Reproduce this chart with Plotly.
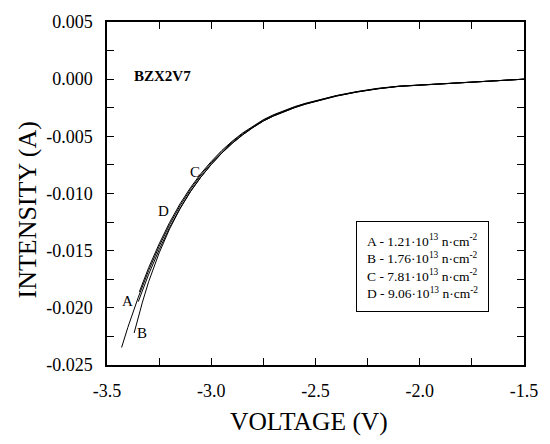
import plotly.graph_objects as go

# Voltage (V) and current (A) values
volt_A = [-1.5, -1.6, -1.7, -1.8, -1.9, -2.0, -2.1, -2.2, -2.3, -2.4, -2.5, -2.55, -2.6, -2.65,
          -2.7, -2.75, -2.8, -2.85, -2.9, -2.95, -3.0, -3.05, -3.1, -3.15, -3.2, -3.25, -3.3, -3.345]
curr_A = [0, -0.0001, -0.0002, -0.00028, -0.00036, -0.00046, -0.00061, -0.0008, -0.00108, -0.00143,
          -0.00187, -0.00212, -0.0024, -0.00273, -0.0031, -0.00354, -0.00409, -0.00471, -0.00543,
          -0.00625, -0.0072, -0.00826, -0.0095, -0.01091, -0.01254, -0.01441, -0.01648, -0.0186]

volt_B = [-1.5, -1.6, -1.7, -1.8, -1.9, -2.0, -2.1, -2.2, -2.3, -2.4, -2.5, -2.55, -2.6, -2.65,
          -2.7, -2.75, -2.8, -2.85, -2.9, -2.95, -3.0, -3.05, -3.1, -3.15, -3.2, -3.25, -3.3,
          -3.33, -3.35, -3.37]
curr_B = [0, -0.0001, -0.0002, -0.0003, -0.00038, -0.00048, -0.00063, -0.00084, -0.00112, -0.00148,
          -0.00194, -0.00219, -0.00249, -0.00283, -0.00321, -0.00366, -0.00423, -0.00488, -0.00562,
          -0.00648, -0.00746, -0.00857, -0.00985, -0.01135, -0.0131, -0.0152, -0.0177,
          -0.0195, -0.0208, -0.0222]

volt_C = [-1.5, -1.6, -1.7, -1.8, -1.9, -2.0, -2.1, -2.2, -2.3, -2.4, -2.5, -2.55, -2.6, -2.65,
          -2.7, -2.75, -2.8, -2.85, -2.9, -2.95, -3.0, -3.05, -3.1, -3.15, -3.2, -3.25, -3.3,
          -3.35, -3.4, -3.43]
curr_C = [0, -0.0001, -0.0002, -0.00029, -0.00037, -0.00047, -0.00062, -0.00082, -0.0011, -0.00145,
          -0.0019, -0.00215, -0.00244, -0.00277, -0.00315, -0.00359, -0.00415, -0.00478, -0.00551,
          -0.00635, -0.00731, -0.00839, -0.00964, -0.01108, -0.01273, -0.01463, -0.01673,
          -0.01908, -0.02171, -0.02347]

volt_D = [-1.5, -1.6, -1.7, -1.8, -1.9, -2.0, -2.1, -2.2, -2.3, -2.4, -2.5, -2.55, -2.6, -2.65,
          -2.7, -2.75, -2.8, -2.85, -2.9, -2.95, -3.0, -3.05, -3.1, -3.15, -3.2, -3.25, -3.3, -3.35]
curr_D = [0, -0.0001, -0.0002, -0.0003, -0.00038, -0.00048, -0.00063, -0.00084, -0.00112, -0.00148,
          -0.00194, -0.00219, -0.00249, -0.00283, -0.00321, -0.00366, -0.00423, -0.00488, -0.00562,
          -0.00648, -0.00746, -0.00856, -0.00983, -0.0113, -0.01298, -0.01492, -0.01706, -0.01946]

curve_labels = ["A", "B", "C", "D"]
label_V = [-3.401, -3.331, -3.077, -3.228]
label_I = [-0.01938, -0.02223, -0.00813, -0.0115]

x_tickvals = [-3.5, -3.0, -2.5, -2.0, -1.5]
x_ticktext = ["-3.5", "-3.0", "-2.5", "-2.0", "-1.5"]
y_tickvals = [0.005, 0.0, -0.005, -0.010, -0.015, -0.020, -0.025]
y_ticktext = ["0.005", "0.000", "-0.005", "-0.010", "-0.015", "-0.020", "-0.025"]

legend_lines = [
    "A - 1.21·10<sup>13</sup> n·cm<sup>-2</sup>",
    "B - 1.76·10<sup>13</sup> n·cm<sup>-2</sup>",
    "C - 7.81·10<sup>13</sup> n·cm<sup>-2</sup>",
    "D - 9.06·10<sup>13</sup> n·cm<sup>-2</sup>",
]

FONT = "Liberation Serif"

fig = go.Figure()
for vx, iy in [(volt_A, curr_A), (volt_B, curr_B), (volt_C, curr_C), (volt_D, curr_D)]:
    fig.add_trace(go.Scatter(x=vx, y=iy, mode="lines",
                             line=dict(color="black", width=1), showlegend=False))

for lab, vx, iy in zip(curve_labels, label_V, label_I):
    fig.add_annotation(x=vx, y=iy, text=lab, showarrow=False,
                       xanchor="center", yanchor="middle",
                       font=dict(family=FONT, size=15, color="black"))

fig.add_annotation(xref="paper", yref="paper", x=0.061, y=0.844,
                   xanchor="left", yanchor="middle",
                   text="<b>BZX2V7</b>", showarrow=False,
                   font=dict(family=FONT, size=15, color="black"))

fig.add_annotation(xref="paper", yref="paper", x=0.756, y=0.286,
                   xanchor="center", yanchor="middle",
                   text="<br>".join(legend_lines), showarrow=False, align="left",
                   bordercolor="black", borderwidth=1, borderpad=10, bgcolor="white",
                   font=dict(family=FONT, size=13.5, color="black"))

# axis titles
fig.add_annotation(xref="paper", yref="paper", x=(313 - 107) / 426, y=(365 - 422) / 347,
                   xanchor="center", yanchor="middle",
                   text="VOLTAGE (V)", showarrow=False,
                   font=dict(family=FONT, size=25.5, color="black"))
fig.add_annotation(xref="paper", yref="paper", x=(26 - 107) / 426, y=(365 - 208) / 347,
                   xanchor="center", yanchor="middle",
                   text="INTENSITY (A)", showarrow=False, textangle=-90,
                   font=dict(family=FONT, size=26, color="black"))

axis_common = dict(showgrid=False, zeroline=False, showline=True, linecolor="black",
                   linewidth=1.5, mirror="ticks", ticks="inside", ticklen=7,
                   tickwidth=1.2, tickcolor="black",
                   tickfont=dict(family=FONT, size=18, color="black"))

fig.update_xaxes(range=[-3.5, -1.5], tickvals=x_tickvals, ticktext=x_ticktext,
                 minor=dict(dtick=0.25, tick0=-3.5, ticks="inside", ticklen=7, tickwidth=1.2, tickcolor="black"),
                 ticklabelstandoff=9, **axis_common)
fig.update_yaxes(range=[-0.025, 0.005], tickvals=y_tickvals, ticktext=y_ticktext,
                 minor=dict(dtick=0.0025, tick0=0, ticks="inside", ticklen=7, tickwidth=1.2, tickcolor="black"),
                 ticklabelstandoff=9, **axis_common)

fig.update_layout(width=550, height=444, margin=dict(l=107, r=17, t=18, b=79),
                  paper_bgcolor="white", plot_bgcolor="white",
                  font=dict(family=FONT, color="black"))

fig.write_html("out.html")
